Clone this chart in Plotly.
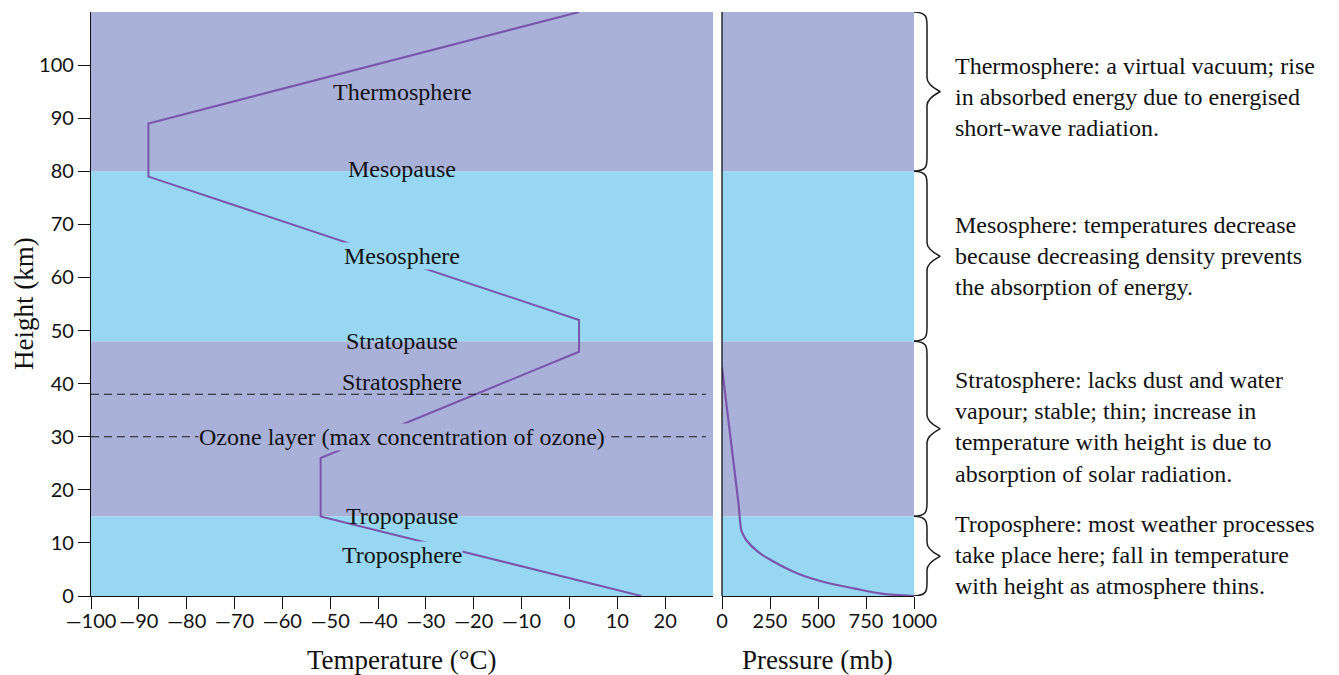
import plotly.graph_objects as go

# ---------------- data ----------------
temp_c = [15, -52, -52, 2, 2, -88, -88, 2]
temp_h = [0, 15, 26, 46, 52, 79, 89, 110]

pressure_mb = [1000, 831, 692, 536, 397, 258, 188, 127, 110, 101, 84, 0]
pressure_h = [0, 0.45, 1.4, 2.6, 4.2, 6.7, 8.3, 10.5, 11.6, 12.35, 18, 43]

band_edges = [0, 15, 48, 80, 110]
band_colors = ["#98D7F1", "#A9B1D8", "#98D7F1", "#A9B1D8"]

dash_heights = [38, 30]
dash_x = [-100, 28.5]

layer_labels = ["Thermosphere", "Mesopause", "Mesosphere", "Stratopause",
                "Stratosphere", "Ozone layer (max concentration of ozone)",
                "Tropopause", "Troposphere"]
layer_label_h = [95, 80.4, 64, 48, 40.4, 30, 15, 7.7]
layer_label_bg = ["#A9B1D8", None, "#98D7F1", None, None, "#A9B1D8", None, "#98D7F1"]
label_x = -35

desc_texts = [
    "Thermosphere: a virtual vacuum; rise<br>in absorbed energy due to energised<br>short-wave radiation.",
    "Mesosphere: temperatures decrease<br>because decreasing density prevents<br>the absorption of energy.",
    "Stratosphere: lacks dust and water<br>vapour; stable; thin; increase in<br>temperature with height is due to<br>absorption of solar radiation.",
    "Troposphere: most weather processes<br>take place here; fall in temperature<br>with height as atmosphere thins.",
]
desc_h = [94, 64, 31.8, 7.7]

temp_ticks = list(range(-100, 30, 10))
temp_ticktext = [("—" + str(-v)) if v < 0 else str(v) for v in temp_ticks]
height_ticks = list(range(0, 110, 10))
pressure_ticks = [0, 250, 500, 750, 1000]

x_title_temp = "Temperature (°C)"
x_title_pres = "Pressure (mb)"
y_title = "Height (km)"

# ---------------- layout constants ----------------
W, H = 1339, 675
ML, MT = 91, 12
MB = H - 596
MR = W - 914
PW = W - ML - MR


def px2paper(px):
    return (px - ML) / PW


SERIF = "Liberation Serif, Times New Roman, serif"
SANS = "Lato, Open Sans, sans-serif"
LINE = "#7B55AD"
INK = "#111111"

fig = go.Figure()

fig.add_trace(go.Scatter(x=temp_c, y=temp_h, mode="lines",
                         line=dict(color=LINE, width=2), xaxis="x", yaxis="y",
                         showlegend=False, hoverinfo="skip"))
for hgt in dash_heights:
    fig.add_trace(go.Scatter(x=dash_x, y=[hgt, hgt], mode="lines",
                             line=dict(color="#1a1a1a", width=1.2, dash="8px,5px"),
                             xaxis="x", yaxis="y", showlegend=False, hoverinfo="skip"))
fig.add_trace(go.Scatter(x=pressure_mb, y=pressure_h, mode="lines",
                         line=dict(color=LINE, width=2.2, shape="spline", smoothing=1.0),
                         xaxis="x2", yaxis="y", showlegend=False, hoverinfo="skip"))

shapes = []
for i in range(len(band_colors)):
    for xr in ["x domain", "x2 domain"]:
        shapes.append(dict(type="rect", xref=xr, yref="y", x0=0, x1=1,
                           y0=band_edges[i], y1=band_edges[i + 1],
                           fillcolor=band_colors[i], line=dict(width=0), layer="below"))
shapes.append(dict(type="line", xref="x2 domain", yref="y", x0=0, x1=0,
                   y0=band_edges[0], y1=band_edges[-1],
                   line=dict(color=INK, width=1.3), layer="above"))

# braces
xe, xv, xt = px2paper(914), px2paper(927), px2paper(940)
d = 2.6
for i in range(len(band_colors)):
    y0, y1 = band_edges[i], band_edges[i + 1]
    ym = (y0 + y1) / 2
    path = (
        f"M {xe},{y1} "
        f"C {xv},{y1 - 0.1} {xv},{y1 - d * 0.4} {xv},{y1 - d} "
        f"L {xv},{ym + d} "
        f"C {xv},{ym + d * 0.4} {xt},{ym + 0.1} {xt},{ym} "
        f"C {xt},{ym - 0.1} {xv},{ym - d * 0.4} {xv},{ym - d} "
        f"L {xv},{y0 + d} "
        f"C {xv},{y0 + d * 0.4} {xv},{y0 + 0.1} {xe},{y0}"
    )
    shapes.append(dict(type="path", xref="paper", yref="y", path=path,
                       line=dict(color="#1a1a1a", width=1.5)))

annotations = []
for txt, hgt, bg in zip(layer_labels, layer_label_h, layer_label_bg):
    a = dict(x=label_x, y=hgt, xref="x", yref="y", text=txt, showarrow=False,
             font=dict(family=SERIF, size=24, color=INK),
             xanchor="center", yanchor="middle")
    if bg:
        a["bgcolor"] = bg
        a["borderpad"] = 0
    annotations.append(a)

for txt, hgt in zip(desc_texts, desc_h):
    annotations.append(dict(x=px2paper(953), y=hgt, xref="paper", yref="y", text=txt,
                            showarrow=False, align="left", xanchor="left", yanchor="middle",
                            font=dict(family=SERIF, size=24, color=INK)))

title_font = dict(family=SERIF, size=27, color=INK)
annotations.append(dict(x=(px2paper(91) + px2paper(713)) / 2, y=0, xref="paper", yref="paper",
                        yshift=-64, text=x_title_temp, showarrow=False, font=title_font,
                        xanchor="center", yanchor="middle"))
annotations.append(dict(x=(px2paper(722) + 1) / 2, y=0, xref="paper", yref="paper",
                        yshift=-64, text=x_title_pres, showarrow=False, font=title_font,
                        xanchor="center", yanchor="middle"))
annotations.append(dict(x=px2paper(24), y=55, xref="paper", yref="y",
                        text=y_title, textangle=-90, showarrow=False, font=title_font,
                        xanchor="center", yanchor="middle"))

axis_common = dict(showgrid=False, zeroline=False, showline=True, linecolor=INK,
                   linewidth=1.3, ticks="outside", ticklen=12, tickwidth=1.3,
                   tickcolor=INK, tickfont=dict(family=SANS, size=20, color=INK))

fig.update_layout(
    width=W, height=H,
    margin=dict(l=ML, r=MR, t=MT, b=MB, autoexpand=False),
    paper_bgcolor="white", plot_bgcolor="white",
    xaxis=dict(domain=[0, px2paper(713)], range=[-100, 30], tickvals=temp_ticks,
               ticktext=temp_ticktext, ticklabelstandoff=-5,
               anchor="y", **axis_common),
    xaxis2=dict(domain=[px2paper(722), 1], range=[0, 1000], tickvals=pressure_ticks,
                ticklabelstandoff=-5, anchor="y", **axis_common),
    yaxis=dict(range=[0, 110], tickvals=height_ticks, anchor="x", **axis_common),
    shapes=shapes, annotations=annotations,
)

fig.write_html("out.html", config={"displayModeBar": False},
               post_script="document.body.style.margin='0';")
